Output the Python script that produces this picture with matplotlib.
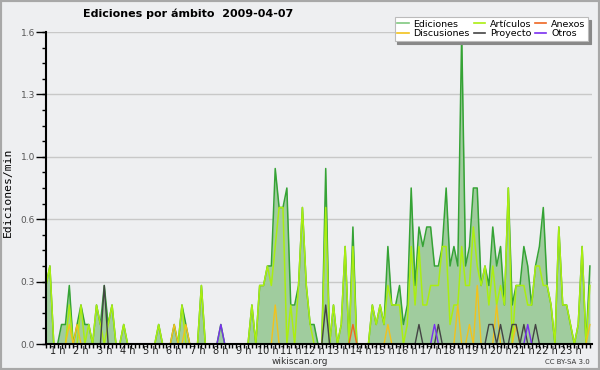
import matplotlib
matplotlib.use("Agg")
import matplotlib.pyplot as plt
from matplotlib.lines import Line2D
from matplotlib.patches import Rectangle
import numpy as np

# edits per minute, one value per 10-minute slot (slot 0 = 00:00)
ediciones = [
    0.3, 0.4, 0.0, 0.0, 0.1, 0.1, 0.3, 0.0, 0.1, 0.2, 0.1, 0.1, 0.0, 0.2, 0.1, 0.3,
    0.1, 0.2, 0.0, 0.0, 0.1, 0.0, 0.0, 0.0, 0.0, 0.0, 0.0, 0.0, 0.0, 0.1, 0.0, 0.0,
    0.0, 0.1, 0.0, 0.2, 0.1, 0.0, 0.0, 0.0, 0.3, 0.0, 0.0, 0.0, 0.0, 0.1, 0.0, 0.0,
    0.0, 0.0, 0.0, 0.0, 0.0, 0.2, 0.0, 0.3, 0.3, 0.4, 0.4, 0.9, 0.7, 0.7, 0.8, 0.2,
    0.2, 0.3, 0.7, 0.3, 0.1, 0.1, 0.0, 0.0, 0.9, 0.0, 0.2, 0.0, 0.1, 0.5, 0.0, 0.6,
    0.0, 0.0, 0.0, 0.0, 0.2, 0.1, 0.2, 0.1, 0.5, 0.2, 0.2, 0.3, 0.1, 0.2, 0.8, 0.3,
    0.6, 0.5, 0.6, 0.6, 0.4, 0.4, 0.5, 0.8, 0.4, 0.5, 0.4, 1.6, 0.4, 0.5, 0.8, 0.8,
    0.3, 0.4, 0.3, 0.6, 0.4, 0.5, 0.2, 0.8, 0.2, 0.3, 0.3, 0.5, 0.4, 0.2, 0.4, 0.5,
    0.7, 0.3, 0.2, 0.0, 0.6, 0.2, 0.2, 0.1, 0.0, 0.1, 0.5, 0.0, 0.4,
]
articulos = [
    0.3, 0.4, 0.0, 0.0, 0.0, 0.0, 0.2, 0.0, 0.0, 0.2, 0.0, 0.1, 0.0, 0.2, 0.1, 0.0,
    0.1, 0.2, 0.0, 0.0, 0.1, 0.0, 0.0, 0.0, 0.0, 0.0, 0.0, 0.0, 0.0, 0.1, 0.0, 0.0,
    0.0, 0.0, 0.0, 0.2, 0.0, 0.0, 0.0, 0.0, 0.3, 0.0, 0.0, 0.0, 0.0, 0.0, 0.0, 0.0,
    0.0, 0.0, 0.0, 0.0, 0.0, 0.2, 0.0, 0.3, 0.3, 0.4, 0.3, 0.5, 0.7, 0.7, 0.0, 0.2,
    0.0, 0.3, 0.7, 0.3, 0.1, 0.0, 0.0, 0.0, 0.7, 0.0, 0.2, 0.0, 0.1, 0.5, 0.0, 0.5,
    0.0, 0.0, 0.0, 0.0, 0.2, 0.1, 0.2, 0.1, 0.3, 0.2, 0.2, 0.2, 0.0, 0.1, 0.5, 0.2,
    0.5, 0.2, 0.2, 0.3, 0.3, 0.3, 0.5, 0.5, 0.1, 0.2, 0.2, 0.5, 0.3, 0.3, 0.6, 0.4,
    0.3, 0.4, 0.2, 0.4, 0.2, 0.3, 0.2, 0.8, 0.0, 0.3, 0.3, 0.3, 0.2, 0.2, 0.4, 0.4,
    0.3, 0.3, 0.2, 0.0, 0.6, 0.2, 0.2, 0.1, 0.0, 0.1, 0.5, 0.0, 0.3,
]
n = len(ediciones)
anexos = [0.0] * n
discusiones = [0.0] * n
proyecto = [0.0] * n
otros = [0.0] * n
for i in [79]:
    anexos[i] = 0.1
for i, v in [(6, 0.1), (8, 0.1), (33, 0.1), (36, 0.1), (59, 0.2), (88, 0.1),
             (106, 0.2), (109, 0.1), (111, 0.3), (116, 0.2), (121, 0.1), (140, 0.1)]:
    discusiones[i] = v
for i, v in [(15, 0.3), (72, 0.2), (96, 0.1), (101, 0.1), (114, 0.1), (115, 0.1),
             (117, 0.1), (120, 0.1), (121, 0.1), (123, 0.1), (126, 0.1)]:
    proyecto[i] = v
for i in [45, 100, 124]:
    otros[i] = 0.1

hours = np.arange(n) / 6.0
hour_labels = [f"{k} h" for k in range(1, 24)]

C_FILL = "#a0cc9e"
C_EDIC = "#35a335"
C_ART = "#aaee11"
C_ANEX = "#ee6622"
C_DISC = "#f2c21c"
C_PROY = "#444444"
C_OTR = "#7a2ff0"
BG = "#eeeff1"

fig = plt.figure(figsize=(6, 3.7), dpi=100, facecolor=BG)
ax = fig.add_axes([46 / 600, 26 / 370, 546 / 600, 312 / 370])
ax.set_facecolor(BG)

ax.fill_between(hours, ediciones, 0, color=C_FILL, lw=0, zorder=1)
ax.plot(hours, ediciones, color=C_EDIC, lw=1.1, zorder=2)
ax.plot(hours, articulos, color=C_ART, lw=1.1, zorder=2.1)
ax.plot(hours, discusiones, color=C_DISC, lw=1.0, zorder=2.2)
ax.plot(hours, anexos, color=C_ANEX, lw=1.0, zorder=2.3)
ax.plot(hours, proyecto, color=C_PROY, lw=1.0, zorder=2.4)
ax.plot(hours, otros, color=C_OTR, lw=1.0, zorder=2.5)

xmax = 546 / (6 * 3.885)
ax.set_xlim(0, xmax)
ax.set_ylim(0, 1.6)

yt = [0.32 * k for k in range(6)]
ax.set_yticks(yt)
ax.set_yticklabels([f"{v:.1f}" for v in yt])
ax.set_yticks(np.arange(0, 1.61, 0.08), minor=True)
ax.yaxis.remove_overlapping_locs = False
for v in yt[1:]:
    ax.axhline(v, color="#c8c8c8", lw=1, zorder=0.5)

ax.set_xticks([k - 0.5 for k in range(1, 24)])
ax.set_xticklabels(hour_labels)
ax.set_xticks(np.arange(0, xmax, 1 / 6), minor=True)
ax.xaxis.remove_overlapping_locs = False

ax.tick_params(axis="x", which="major", length=0, pad=1.5, labelsize=7, colors="#222")
ax.tick_params(axis="x", which="minor", length=3, width=1, color="black")
ax.tick_params(axis="y", which="major", length=7, width=1, pad=1, labelsize=6.5,
               labelcolor="#555")
ax.tick_params(axis="y", which="minor", length=3, width=1)

for s in ["top", "right"]:
    ax.spines[s].set_visible(False)
for s in ["left", "bottom"]:
    ax.spines[s].set_linewidth(1.5)
    ax.spines[s].set_zorder(3)

fig.text(8 / 600, 1 - 192 / 370, "Ediciones/min", family="DejaVu Sans Mono",
         fontsize=8.2, rotation=90, ha="center", va="center")

fig.text(188 / 600, 1 - 14 / 370, "Ediciones por ámbito  2009-04-07", ha="center",
         va="center", fontsize=8, fontweight="bold")
fig.text(300 / 600, 1 - 362 / 370, "wikiscan.org", ha="center", va="center",
         fontsize=6.5, color="#333")
fig.text(590 / 600, 1 - 362 / 370, "CC BY-SA 3.0", ha="right", va="center",
         fontsize=5, color="#333")

handles = [
    Line2D([], [], color="#80c880", lw=1.2),
    Line2D([], [], color=C_DISC, lw=1.2),
    Line2D([], [], color=C_ART, lw=1.2),
    Line2D([], [], color=C_PROY, lw=1.2),
    Line2D([], [], color=C_ANEX, lw=1.2),
    Line2D([], [], color=C_OTR, lw=1.2),
]
labels = ["Ediciones", "Discusiones", "Artículos", "Proyecto", "Anexos", "Otros"]
leg = fig.legend(handles, labels, ncol=3, loc="upper right",
                 bbox_to_anchor=(593 / 600, 1 - 12 / 370), fontsize=6.8,
                 frameon=True, fancybox=False, shadow={"color": "#888888", "alpha": 1},
                 edgecolor="#bbbbbb", framealpha=1, borderpad=0.3, labelspacing=0.05,
                 handlelength=1.2, handletextpad=0.5, columnspacing=0.4)
leg.get_frame().set_linewidth(0.8)

fig.patches.append(Rectangle((0, 0), 1, 1, transform=fig.transFigure, fill=False,
                             edgecolor="#a8a8a8", lw=3, zorder=10))

fig.savefig("out.png", dpi=100, facecolor=BG)
